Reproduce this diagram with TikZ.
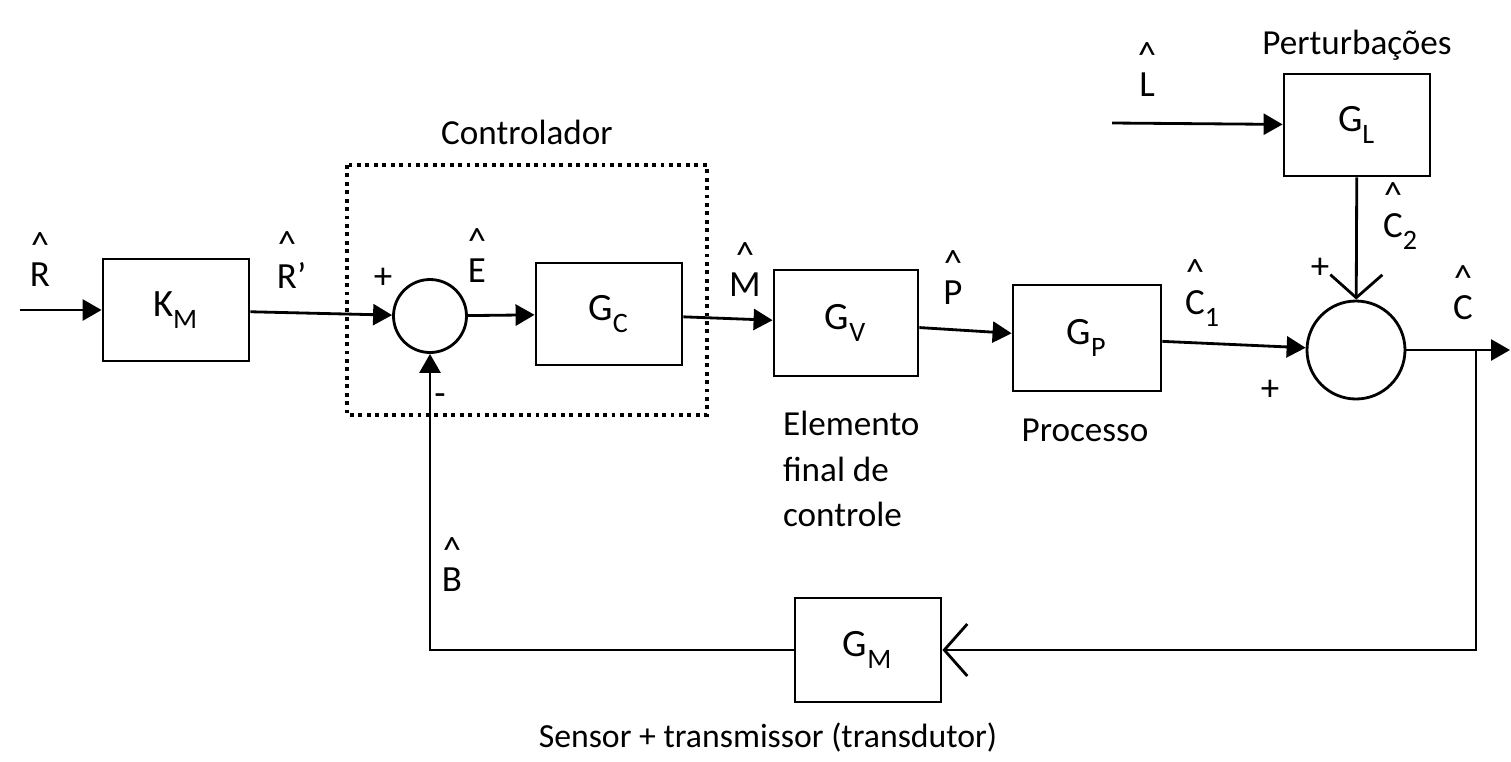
\documentclass[tikz,border=0pt]{standalone}
\usepackage{fontspec}
\setmainfont{Carlito}
\usetikzlibrary{arrows.meta}
\newcommand{\hatsig}[1]{\shortstack{\textasciicircum\\[-1.5pt]#1}}
\newcommand{\lowsub}[1]{\textsubscript{\raisebox{-0.5ex}{\footnotesize #1}}}

\begin{document}
\begin{tikzpicture}[
  x=0.1mm, y=-0.1mm,
  thick,
  >={Triangle[length=1.9mm, width=2.1mm]},
  block/.style={draw, minimum width=14.6mm, minimum height=10.2mm, font=\fontsize{11}{13}\selectfont},
  summer/.style={draw, circle, inner sep=0pt},
  sig/.style={font=\fontsize{10.5}{12}\selectfont, inner sep=1pt},
  txt/.style={font=\fontsize{10}{13}\selectfont},
  ctrlbox/.style={line width=0.9pt, dash pattern=on 1.1pt off 1.3pt},
  barb/.style={-{Straight Barb[length=2.3mm, width=5.2mm]}}]
\useasboundingbox (0,0) rectangle (1511,761);
\node[block] (km) at (176,310) {K\lowsub{M}};
\node[summer, minimum size=7.3mm] (sum1) at (430,316) {};
\node[block] (gc) at (609,314) {G\lowsub{C}};
\node[block, minimum width=14.4mm, minimum height=10.6mm] (gv) at (846,323) {G\lowsub{V}};
\node[block, minimum width=14.8mm, minimum height=10.6mm] (gp) at (1087,338) {G\lowsub{P}};
\node[summer, minimum size=9.8mm] (sum2) at (1356,350) {};
\node[block] (gl) at (1357,125) {G\lowsub{L}};
\node[block, minimum height=10.4mm] (gm) at (868,650) {G\lowsub{M}};
\coordinate (rin) at (20,310);
\coordinate (lin) at (1112,123);
\coordinate (cout) at (1510,350);
\coordinate (br) at (1476,350);

\draw[ctrlbox] (347,165) rectangle (707,415);

\draw[->] (rin) -- (km);
\draw[->] (km) -- (sum1);
\draw[->] (sum1) -- (gc);
\draw[->] (gc) -- (gv);
\draw[->] (gv) -- (gp);
\draw[->] (gp) -- (sum2);
\draw[->] (lin) -- (gl);
\draw[barb] (gl) -- (sum2);
\draw[->] (sum2) -- (cout);
\draw[barb] (br) |- (gm);
\draw[->] (gm) -| (sum1);

\node[sig] (rhat) at (40,260) {\hatsig{R}};
\node[sig] (rphat) at (287,260) {\hatsig{R\rlap{\textquoteright}}};
\node[sig] (ehat) at (477,256) {\hatsig{E}};
\node[sig] (mhat) at (745,270) {\hatsig{M}};
\node[sig] (phat) at (953,278) {\hatsig{P}};
\node[sig] (c1hat) at (1195,293) {\hatsig{C\rlap{\lowsub{1}}}};
\node[sig] (chat) at (1463,293) {\hatsig{C}};
\node[sig] (c2hat) at (1393,216) {\hatsig{C\rlap{\lowsub{2}}}};
\node[sig] (lhat) at (1147,70) {\hatsig{L}};
\node[sig] (bhat) at (452,565) {\hatsig{B}};

\node[sig] (plus1) at (383,278) {+};
\node[sig] (minus1) at (440,400) {-};
\node[sig] (plus2) at (1320,268) {+};
\node[sig] (plus3) at (1270,390) {+};

\node[txt] (ctrl) at (527,132) {Controlador};
\node[txt] (pert) at (1357,45) {Perturbações};
\node[txt, align=left, anchor=north west] (elem) at (770,398) {Elemento\\final de\\controle};
\node[txt] (proc) at (1085,430) {Processo};
\node[txt, font=\fontsize{9.6}{12}\selectfont] (sens) at (768,737) {Sensor + transmissor (transdutor)};
\end{tikzpicture}
\end{document}
